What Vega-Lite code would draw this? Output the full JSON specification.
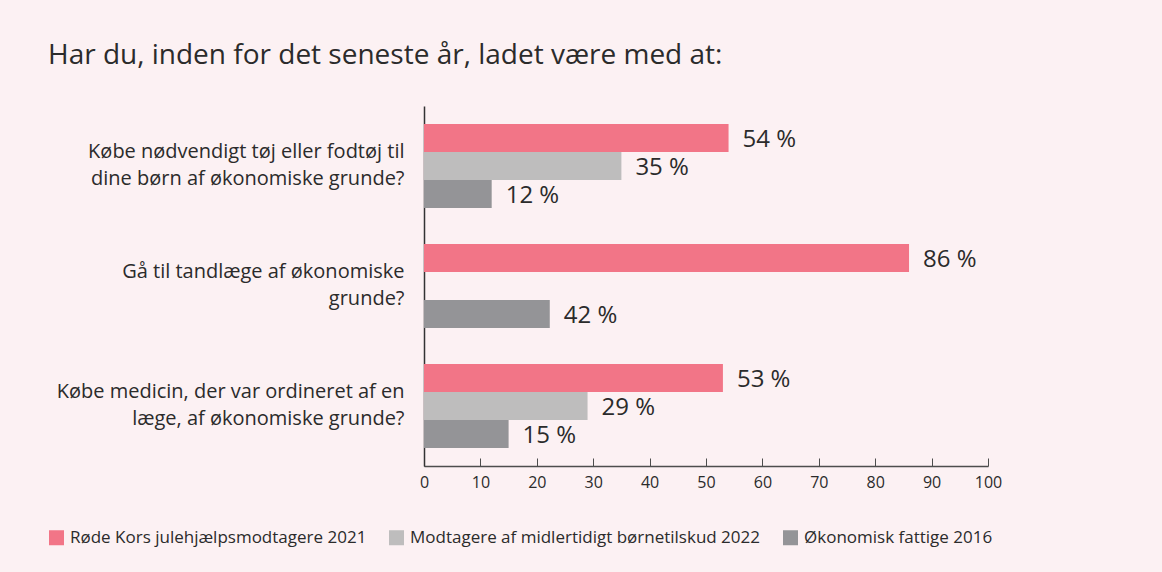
{
  "$schema": "https://vega.github.io/schema/vega-lite/v6.json",
  "autosize": "none",
  "width": 564,
  "height": 360,
  "padding": {"left": 424, "top": 106, "right": 174, "bottom": 106},
  "background": "#fcf1f3",
  "config": {"view": {"stroke": null}},
  "title": {
    "text": "Har du, inden for det seneste år, ladet være med at:",
    "anchor": "start",
    "frame": "group",
    "dx": -376,
    "offset": 14,
    "baseline": "alphabetic",
    "fontSize": 28,
    "fontWeight": "normal",
    "font": "Open Sans",
    "color": "#2b2b2b"
  },
  "data": {
    "values": [
      {"question": "Købe nødvendigt tøj eller fodtøj til\ndine børn af økonomiske grunde?", "group": "Røde Kors julehjælpsmodtagere 2021", "value": 54, "pct": 54},
      {"question": "Købe nødvendigt tøj eller fodtøj til\ndine børn af økonomiske grunde?", "group": "Modtagere af midlertidigt børnetilskud 2022", "value": 35, "pct": 35},
      {"question": "Købe nødvendigt tøj eller fodtøj til\ndine børn af økonomiske grunde?", "group": "Økonomisk fattige 2016", "value": 12, "pct": 12},
      {"question": "Gå til tandlæge af økonomiske\ngrunde?", "group": "Røde Kors julehjælpsmodtagere 2021", "value": 86, "pct": 86},
      {"question": "Gå til tandlæge af økonomiske\ngrunde?", "group": "Økonomisk fattige 2016", "value": 22.3, "pct": 42},
      {"question": "Købe medicin, der var ordineret af en\nlæge, af økonomiske grunde?", "group": "Røde Kors julehjælpsmodtagere 2021", "value": 53, "pct": 53},
      {"question": "Købe medicin, der var ordineret af en\nlæge, af økonomiske grunde?", "group": "Modtagere af midlertidigt børnetilskud 2022", "value": 29, "pct": 29},
      {"question": "Købe medicin, der var ordineret af en\nlæge, af økonomiske grunde?", "group": "Økonomisk fattige 2016", "value": 15, "pct": 15}
    ]
  },
  "encoding": {
    "y": {
      "field": "question",
      "type": "nominal",
      "sort": null,
      "scale": {"paddingInner": 0.3, "paddingOuter": 0.15},
      "axis": {
        "title": null,
        "ticks": false,
        "domainColor": "#333333",
        "domainWidth": 1.5,
        "labelExpr": "split(datum.label, '\\n')",
        "labelFont": "Open Sans",
        "labelFontSize": 20,
        "labelLineHeight": 27,
        "labelOffset": -14,
        "labelColor": "#2b2b2b",
        "labelPadding": 20,
        "labelLimit": 420
      }
    },
    "yOffset": {
      "field": "group",
      "type": "nominal",
      "scale": {
        "domain": ["Røde Kors julehjælpsmodtagere 2021", "Modtagere af midlertidigt børnetilskud 2022", "Økonomisk fattige 2016"],
        "paddingInner": 0,
        "paddingOuter": 0
      }
    },
    "x": {
      "field": "value",
      "type": "quantitative",
      "scale": {"domain": [0, 100], "nice": false},
      "axis": {
        "title": null,
        "grid": false,
        "values": [0, 10, 20, 30, 40, 50, 60, 70, 80, 90, 100],
        "tickSize": -8,
        "tickColor": "#4d4d4d",
        "domainColor": "#4d4d4d",
        "domainWidth": 1.5,
        "labelFlush": false,
        "labelOverlap": false,
        "labelFont": "Open Sans",
        "labelFontSize": 16,
        "labelColor": "#2b2b2b",
        "labelPadding": 16
      }
    }
  },
  "layer": [
    {
      "mark": {"type": "bar", "cornerRadius": 0},
      "encoding": {
        "color": {
          "field": "group",
          "type": "nominal",
          "scale": {
            "domain": ["Røde Kors julehjælpsmodtagere 2021", "Modtagere af midlertidigt børnetilskud 2022", "Økonomisk fattige 2016"],
            "range": ["#f27587", "#bebdbd", "#949497"]
          },
          "legend": {
            "title": null,
            "orient": "none",
            "direction": "horizontal",
            "legendX": -376,
            "legendY": 423,
            "symbolType": "square",
            "symbolSize": 225,
            "symbolStrokeWidth": 0,
            "symbolOpacity": 1,
            "labelFont": "Open Sans",
            "labelFontSize": 17,
            "labelColor": "#2b2b2b",
            "labelOffset": 5,
            "columnPadding": 21,
            "labelLimit": 500
          }
        }
      }
    },
    {
      "mark": {
        "type": "text",
        "align": "left",
        "baseline": "middle",
        "dx": 14,
        "dy": 2,
        "font": "Open Sans",
        "fontSize": 24,
        "color": "#2b2b2b",
        "text": {"expr": "datum.pct + ' %'"}
      },
      "encoding": {}
    }
  ]
}
